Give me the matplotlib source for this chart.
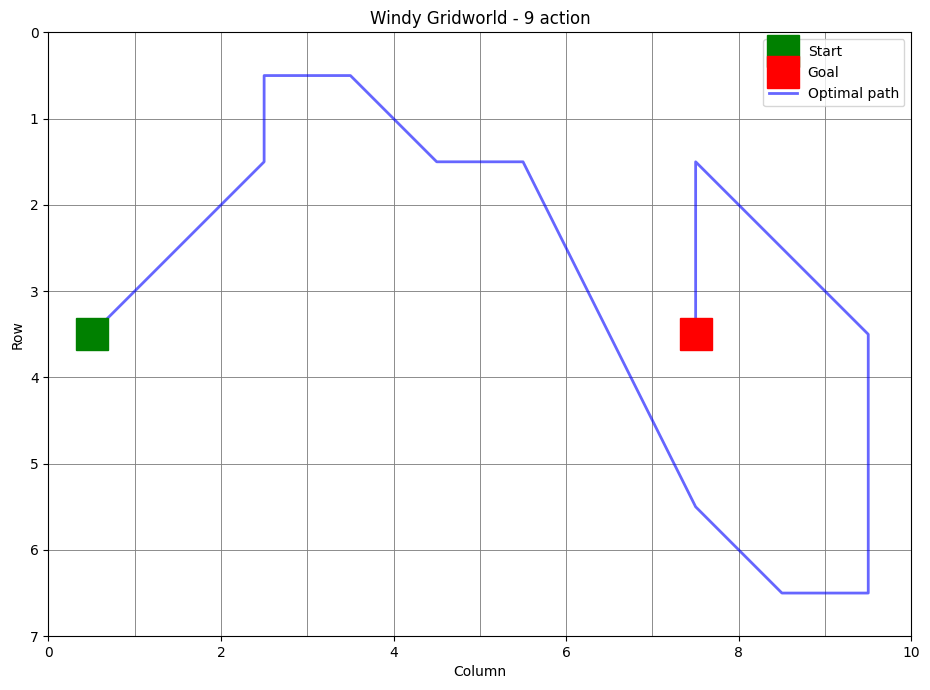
import matplotlib
matplotlib.use("Agg")
import matplotlib.pyplot as plt
import numpy as np

# path through grid cells (column, row), cell centres
path_cols = [0.5, 2.5, 2.5, 3.5, 4.5, 5.5, 7.5, 8.5, 9.5, 9.5, 7.5, 7.5]
path_rows = [3.5, 1.5, 0.5, 0.5, 1.5, 1.5, 5.5, 6.5, 6.5, 3.5, 1.5, 3.5]
start = (0.5, 3.5)
goal = (7.5, 3.5)
n_cols, n_rows = 10, 7

fig, ax = plt.subplots(figsize=(9.3, 6.9), dpi=100)
fig.subplots_adjust(left=0.052, right=0.98, bottom=0.078, top=0.953)

ax.plot(path_cols, path_rows, color="blue", alpha=0.6, lw=2,
        label="Optimal path", zorder=2)
ax.plot(*start, "s", color="green", markersize=23, label="Start", zorder=3)
ax.plot(*goal, "s", color="red", markersize=23, label="Goal", zorder=3)

ax.set_xlim(0, n_cols)
ax.set_ylim(n_rows, 0)
ax.set_xticks(np.arange(0, n_cols + 1, 2))
ax.set_xticks(np.arange(0, n_cols + 1, 1), minor=True)
ax.set_yticks(np.arange(0, n_rows + 1, 1))
ax.tick_params(axis="x", which="minor", length=0)
ax.grid(True, which="both", color="gray", lw=0.7, alpha=0.9)
ax.set_axisbelow(True)

ax.set_xlabel("Column")
ax.set_ylabel("Row")
ax.set_title("Windy Gridworld - 9 action")

h, l = ax.get_legend_handles_labels()
ax.legend([h[1], h[2], h[0]], [l[1], l[2], l[0]], loc="upper right")

plt.savefig("out.png")
